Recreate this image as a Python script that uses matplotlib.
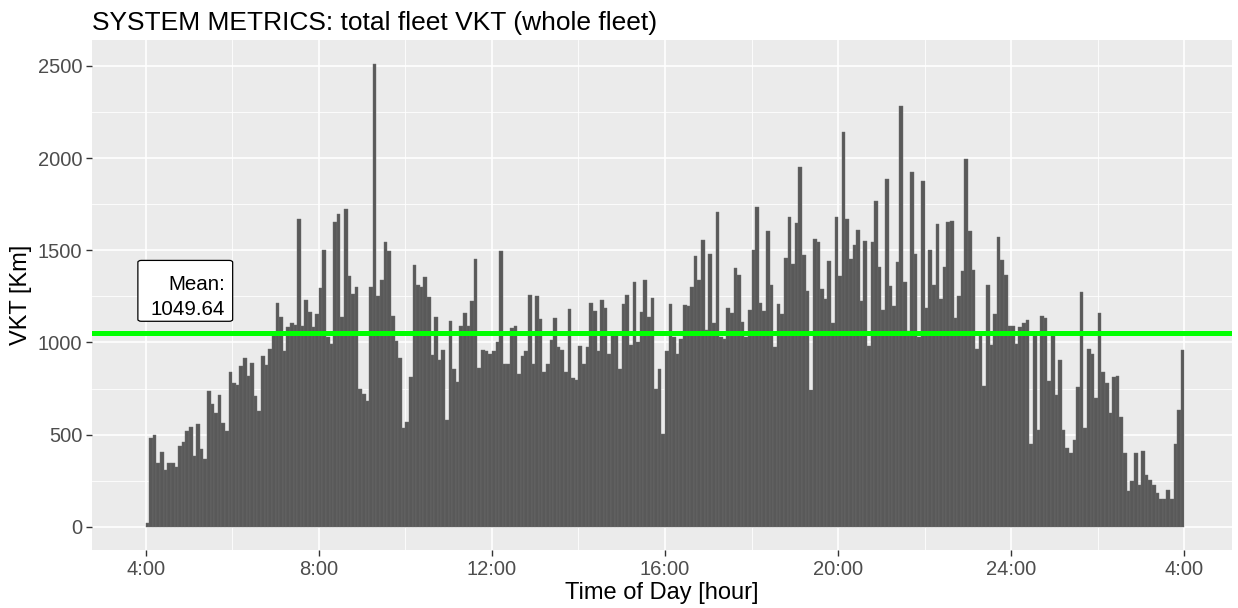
import numpy as np
import matplotlib
matplotlib.use("Agg")
import matplotlib.pyplot as plt
from matplotlib.patches import FancyBboxPatch
from matplotlib.ticker import MultipleLocator

plt.rcParams['font.family'] = ['Liberation Sans', 'DejaVu Sans']

# 5-minute bins starting at 4:00, running to 4:00 the next day
start_hour = 4
bin_minutes = 5

vkt_04_07 = [20, 483, 501, 348, 405, 308, 348, 348, 326, 438, 459, 519, 543, 384,
             557, 425, 369, 738, 669, 618, 716, 564, 519, 842, 781, 767, 871, 916,
             817, 889, 709, 627, 925, 880, 967]
vkt_07_10 = [1052, 1214, 1139, 952, 1084, 1106, 1097, 1669, 1088, 1232, 1166, 1084,
             1155, 1294, 1501, 1030, 994, 1653, 1697, 1139, 1724, 1362, 1263, 1299,
             750, 723, 682, 1299, 2509, 1250, 1341, 1543, 1494, 1146, 1007, 916, 537]
vkt_10_13 = [568, 811, 1422, 1312, 1301, 1355, 1245, 933, 1139, 904, 958, 582, 1119,
             855, 784, 1092, 1160, 1092, 1223, 1453, 862, 960, 952, 940, 952, 1000,
             1494, 884, 884, 1079, 1092, 830, 925, 952]
vkt_13_16 = [1259, 886, 1250, 1128, 841, 884, 1014, 1133, 974, 958, 841, 1182, 808,
             794, 979, 884, 974, 1214, 1173, 952, 1229, 1187, 938, 1039, 1043, 857,
             1209, 1256, 987, 1326, 1001, 1166, 1341, 1139, 1242, 750, 859]
vkt_16_19 = [506, 952, 1209, 1028, 940, 1021, 1204, 1196, 1299, 1467, 1341, 1557,
             1070, 1480, 1106, 1709, 1030, 1021, 1187, 1160, 1404, 1368, 1112, 1028,
             1174, 1503, 1736, 1214, 1173, 1606, 1312, 974, 1209, 1155, 1458, 1682]
vkt_19_22 = [1426, 1648, 1951, 1474, 1277, 745, 1563, 1543, 1292, 1236, 1444, 1106,
             1680, 1362, 2141, 1671, 1453, 1529, 1612, 1223, 1548, 983, 1543, 1765,
             1410, 1174, 1889, 1305, 1196, 1438, 2280, 1326, 1060, 1924, 1480]
vkt_22_25 = [1030, 1873, 1187, 1501, 1312, 1640, 1236, 1410, 1653, 1660, 1133, 1250,
             1389, 1995, 1602, 1395, 965, 1037, 763, 1312, 989, 1155, 1570, 1445,
             1368, 1088, 1088, 994, 1084, 1106, 1124, 447, 1052, 523, 1146, 1133]
vkt_25_28 = [790, 1043, 714, 907, 528, 429, 402, 474, 757, 1272, 535, 965, 938, 700,
             1160, 841, 779, 617, 811, 817, 597, 402, 194, 248, 402, 230, 411, 284,
             252, 225, 185, 153, 153, 199, 153, 451, 633, 958]

vkt = np.array(vkt_04_07 + vkt_07_10 + vkt_10_13 + vkt_13_16 +
               vkt_16_19 + vkt_19_22 + vkt_22_25 + vkt_25_28, dtype=float)
hours = start_hour + np.arange(len(vkt)) * bin_minutes / 60.0

mean_vkt = 1049.64
x_ticks = [4, 8, 12, 16, 20, 24, 28]
x_tick_labels = ["4:00", "8:00", "12:00", "16:00", "20:00", "24:00", "4:00"]

fig = plt.figure(figsize=(12.38, 6.08), dpi=100)
ax = fig.add_axes([92 / 1238, 1 - 550 / 608, 1140 / 1238, 510 / 608])
ax.set_facecolor("#EBEBEB")

ax.bar(hours, vkt, width=bin_minutes / 60.0, align="edge",
       color="#595959", edgecolor="#6E6E6E", linewidth=0.3, zorder=2)
ax.axhline(mean_vkt, color="#00FF00", linewidth=3.6, zorder=3)

# mean label box (geom_label look)
box = FancyBboxPatch((3.82, 1115), 6.01 - 3.82, 1445 - 1115,
                     boxstyle="round,pad=0,rounding_size=0.08",
                     mutation_aspect=130, fc="white", ec="black", lw=0.9,
                     zorder=4)
ax.add_patch(box)
ax.text(5.83, 1147, "Mean:\n%.2f" % mean_vkt, ha="right", va="baseline",
        multialignment="right", fontsize=14.8, color="black",
        linespacing=1.45, zorder=5)

ax.set_xlim(2.76, 29.1)
ax.set_ylim(-125, 2640)
ax.set_xticks(x_ticks)
ax.set_xticklabels(x_tick_labels)
ax.xaxis.set_minor_locator(MultipleLocator(2))
ax.yaxis.set_major_locator(MultipleLocator(500))
ax.yaxis.set_minor_locator(MultipleLocator(250))

ax.grid(which="major", color="white", linewidth=1.2, zorder=0)
ax.grid(which="minor", color="white", linewidth=0.6, zorder=0)
ax.set_axisbelow(True)
for s in ax.spines.values():
    s.set_visible(False)
ax.tick_params(which="major", length=4, width=1, color="#333333",
               labelsize=14.5, labelcolor="#4D4D4D", pad=3)
ax.tick_params(which="minor", length=0)

ax.set_xlabel("Time of Day [hour]", fontsize=17, labelpad=2)
ax.set_ylabel("VKT [Km]", fontsize=17, labelpad=4)
ax.set_title("SYSTEM METRICS: total fleet VKT (whole fleet)", fontsize=19,
             loc="left", pad=7)

fig.savefig("out.png", dpi=100)
